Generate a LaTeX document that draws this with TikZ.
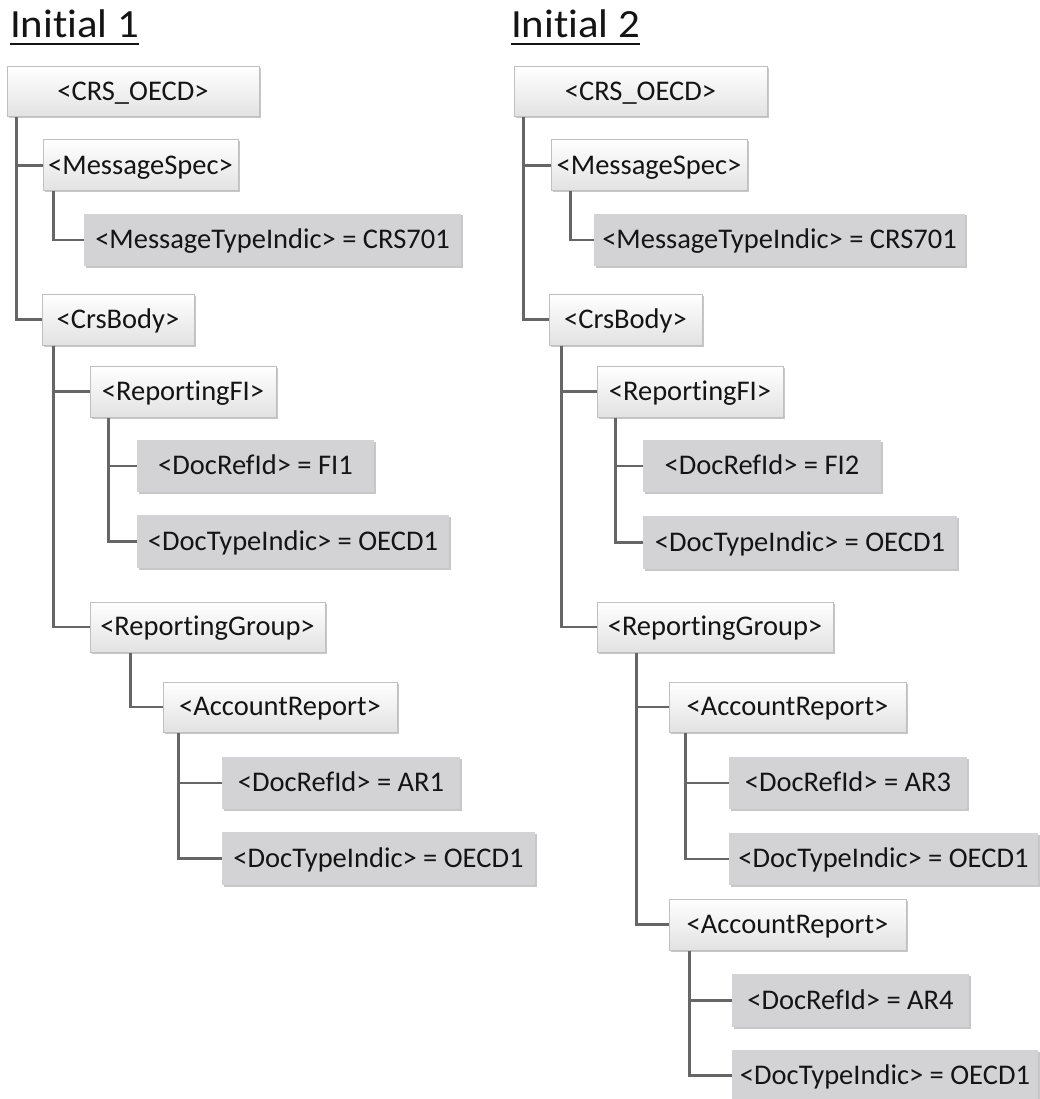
\documentclass[tikz,border=0pt]{standalone}
\usepackage{fontspec}
\setmainfont{Carlito}
\newfontfamily\boxfont[RawFeature={-liga}]{Carlito}
\newfontfamily\titlefont[FakeStretch=1.07,RawFeature={-liga}]{Carlito}
\usetikzlibrary{shadows}
\definecolor{boxedge}{HTML}{C0C0C0}
\definecolor{lgrad}{HTML}{E2E2E2}
\definecolor{dfill}{HTML}{D3D3D5}
\definecolor{txt}{HTML}{141414}
\definecolor{linec}{HTML}{666666}
\tikzset{
  base box/.style={inner sep=0pt, text=txt,
    font=\boxfont\fontsize{28.5}{32}\selectfont,
    text height=17.5pt, text depth=0pt,
    drop shadow={shadow xshift=1.5pt, shadow yshift=-1.5pt, opacity=0.22, fill=black}},
  lbox/.style={base box, draw=boxedge, line width=1pt, top color=white, bottom color=lgrad},
  dbox/.style={base box, fill=dfill},
  conn/.style={draw=linec, line width=2.4pt},
  ttl/.style={inner sep=0pt, anchor=base west, text=txt,
    font=\titlefont\fontsize{40}{44}\selectfont},
  uline/.style={draw=txt, line width=2.6pt}
}
\newcommand\placebox[7]{%
  \pgfmathsetmacro\pbW{#5-#3}\pgfmathsetmacro\pbH{#6-#4}%
  \pgfmathsetmacro\pbX{(#3+#5)/2}\pgfmathsetmacro\pbY{(#4+#6)/2}%
  \node[#1, minimum width=\pbW pt, minimum height=\pbH pt] (#2) at (\pbX,\pbY) {#7};}
\begin{document}
\begin{tikzpicture}[x=1pt,y=-1pt]
\useasboundingbox[fill=white] (0,0) rectangle (1039,1099);
% titles
\node[ttl] (t1) at (10,38) {Initial 1};
\draw[uline] ([yshift=-6pt]t1.base west) -- ([yshift=-6pt]t1.base east);
\node[ttl] (t2) at (511,38) {Initial 2};
\draw[uline] ([yshift=-6pt]t2.base west) -- ([yshift=-6pt]t2.base east);
% ---------------- left tree
\placebox{lbox}{crs1}{7}{67}{259}{117}{<CRS\_OECD>}
\placebox{lbox}{ms1}{43}{140}{238}{191}{<MessageSpec>}
\placebox{dbox}{mti1}{84}{214}{461}{266}{<MessageTypeIndic> = CRS701}
\placebox{lbox}{cb1}{42}{294}{194}{345}{<CrsBody>}
\placebox{lbox}{rfi1}{90}{366}{276}{417}{<ReportingFI>}
\placebox{dbox}{fi1}{137}{440}{374}{492}{<DocRefId> = FI1}
\placebox{dbox}{dti1}{137}{515}{449}{568}{<DocTypeIndic> = OECD1}
\placebox{lbox}{rg1}{90}{602}{325}{652}{<ReportingGroup>}
\placebox{lbox}{ar1}{163}{682}{397}{732}{<AccountReport>}
\placebox{dbox}{ar1d}{222}{757}{460}{809}{<DocRefId> = AR1}
\placebox{dbox}{ar1t}{222}{832}{535}{885}{<DocTypeIndic> = OECD1}
\draw[conn] ([xshift=10pt]crs1.south west) |- (ms1.west);
\draw[conn] ([xshift=10pt]crs1.south west) |- (cb1.west);
\draw[conn] ([xshift=11pt]ms1.south west) |- (mti1.west);
\draw[conn] ([xshift=12pt]cb1.south west) |- (rfi1.west);
\draw[conn] ([xshift=12pt]cb1.south west) |- (rg1.west);
\draw[conn] ([xshift=19pt]rfi1.south west) |- (fi1.west);
\draw[conn] ([xshift=19pt]rfi1.south west) |- (dti1.west);
\draw[conn] ([xshift=41pt]rg1.south west) |- (ar1.west);
\draw[conn] ([xshift=16pt]ar1.south west) |- (ar1d.west);
\draw[conn] ([xshift=16pt]ar1.south west) |- (ar1t.west);
% ---------------- right tree
\placebox{lbox}{crs2}{514}{67}{767}{117}{<CRS\_OECD>}
\placebox{lbox}{ms2}{551}{140}{747}{191}{<MessageSpec>}
\placebox{dbox}{mti2}{594}{214}{965}{266}{<MessageTypeIndic> = CRS701}
\placebox{lbox}{cb2}{549}{294}{702}{345}{<CrsBody>}
\placebox{lbox}{rfi2}{597}{366}{783}{417}{<ReportingFI>}
\placebox{dbox}{fi2}{643}{440}{881}{492}{<DocRefId> = FI2}
\placebox{dbox}{dti2}{643}{516}{957}{569}{<DocTypeIndic> = OECD1}
\placebox{lbox}{rg2}{597}{602}{833}{652}{<ReportingGroup>}
\placebox{lbox}{ar2a}{669}{682}{906}{732}{<AccountReport>}
\placebox{dbox}{ar3d}{729}{757}{967}{809}{<DocRefId> = AR3}
\placebox{dbox}{ar3t}{729}{833}{1038}{885}{<DocTypeIndic> = OECD1}
\placebox{lbox}{ar2b}{669}{899}{906}{950}{<AccountReport>}
\placebox{dbox}{ar4d}{732}{974}{969}{1027}{<DocRefId> = AR4}
\placebox{dbox}{ar4t}{732}{1050}{1038}{1101}{<DocTypeIndic> = OECD1}
\draw[conn] ([xshift=10pt]crs2.south west) |- (ms2.west);
\draw[conn] ([xshift=10pt]crs2.south west) |- (cb2.west);
\draw[conn] ([xshift=20pt]ms2.south west) |- (mti2.west);
\draw[conn] ([xshift=13pt]cb2.south west) |- (rfi2.west);
\draw[conn] ([xshift=13pt]cb2.south west) |- (rg2.west);
\draw[conn] ([xshift=19pt]rfi2.south west) |- (fi2.west);
\draw[conn] ([xshift=19pt]rfi2.south west) |- (dti2.west);
\draw[conn] ([xshift=40pt]rg2.south west) |- (ar2a.west);
\draw[conn] ([xshift=40pt]rg2.south west) |- (ar2b.west);
\draw[conn] ([xshift=17pt]ar2a.south west) |- (ar3d.west);
\draw[conn] ([xshift=17pt]ar2a.south west) |- (ar3t.west);
\draw[conn] ([xshift=21pt]ar2b.south west) |- (ar4d.west);
\draw[conn] ([xshift=21pt]ar2b.south west) |- (ar4t.west);
\end{tikzpicture}
\end{document}
